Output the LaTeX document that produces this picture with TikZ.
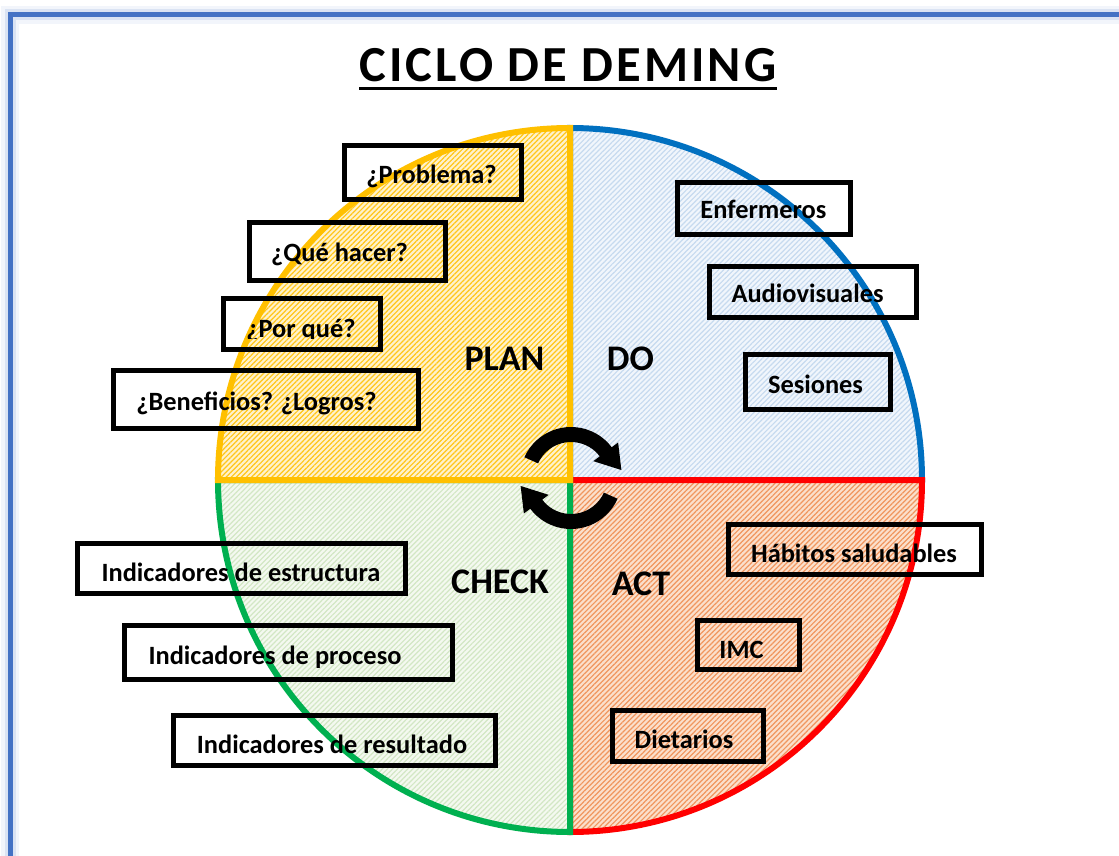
\documentclass[tikz,border=0pt]{standalone}
\usepackage{fontspec}
\setmainfont{Carlito}
\usetikzlibrary{patterns.meta,calc}
\definecolor{frameblue}{HTML}{4472C4}
\definecolor{planc}{HTML}{FFC000}
\definecolor{planbg}{HTML}{FFF2CC}
\definecolor{planln}{HTML}{FFC61A}
\definecolor{doc}{HTML}{0070C0}
\definecolor{dobg}{HTML}{F1F6FC}
\definecolor{doln}{HTML}{C6DAEF}
\definecolor{checkc}{HTML}{00B050}
\definecolor{checkbg}{HTML}{F4F9F0}
\definecolor{checkln}{HTML}{D2E7C4}
\definecolor{actc}{HTML}{FF0000}
\definecolor{actbg}{HTML}{FBE0CC}
\definecolor{actln}{HTML}{F0965E}
\begin{document}
\begin{tikzpicture}[x=1pt,y=-1pt,
  box/.style={draw=black,line width=5pt,inner sep=0pt},
  lbl/.style={font=\fontsize{26.4}{30}\selectfont\bfseries,inner sep=0pt,text height=16.6pt,text depth=0pt},
  quad/.style={font=\fontsize{36}{40}\selectfont\bfseries,inner sep=0pt,text height=22.7pt,text depth=0pt},
  rim/.style={line width=6pt,line join=miter},
  hatch/.style={pattern={Lines[angle=45,distance=3.6pt,line width=1.2pt]}}]
\useasboundingbox (0,0) rectangle (1119,856);
\clip (0,0) rectangle (1119,856);
\fill[white] (0,0) rectangle (1119,856);
% frame with glow
\draw[line width=18pt,frameblue!7] (10,900) -- (10,15) -- (1200,15);
\draw[line width=11pt,frameblue!20] (10,900) -- (10,15) -- (1200,15);
\draw[line width=5pt,frameblue] (10,900) -- (10,15) -- (1200,15);
% title
\node[inner sep=0pt,font=\fontsize{50.5}{55}\selectfont\bfseries\addfontfeature{LetterSpace=6},text height=32pt,text depth=0pt] (title) at (568,66) {CICLO DE DEMING};
\draw[line width=3pt] ([yshift=-6.5pt]title.base west) -- ([yshift=-6.5pt]title.base east);
% quadrants
\coordinate (c) at (570,480);
% DO (top right)
\fill[dobg] (c) -- ++(270:352) arc[start angle=270,end angle=360,radius=352] -- cycle;
\fill[hatch,pattern color=doln] (c) -- ++(270:352) arc[start angle=270,end angle=360,radius=352] -- cycle;
\draw[rim,doc] (c) -- ++(270:352) arc[start angle=270,end angle=360,radius=352] -- cycle;
% ACT (bottom right)
\fill[actbg] (c) -- ++(0:352) arc[start angle=0,end angle=90,radius=352] -- cycle;
\fill[hatch,pattern color=actln] (c) -- ++(0:352) arc[start angle=0,end angle=90,radius=352] -- cycle;
\draw[rim,actc] (c) -- ++(0:352) arc[start angle=0,end angle=90,radius=352] -- cycle;
% CHECK (bottom left)
\fill[checkbg] (c) -- ++(90:352) arc[start angle=90,end angle=180,radius=352] -- cycle;
\fill[hatch,pattern color=checkln] (c) -- ++(90:352) arc[start angle=90,end angle=180,radius=352] -- cycle;
\draw[rim,checkc] (c) -- ++(90:352) arc[start angle=90,end angle=180,radius=352] -- cycle;
% PLAN (top left)
\fill[planbg] (c) -- ++(180:352) arc[start angle=180,end angle=270,radius=352] -- cycle;
\fill[hatch,pattern color=planln] (c) -- ++(180:352) arc[start angle=180,end angle=270,radius=352] -- cycle;
\draw[rim,planc] (c) -- ++(180:352) arc[start angle=180,end angle=270,radius=352] -- cycle;
% quadrant titles
\node[quad] (plan) at (504.5,359.5) {PLAN};
\node[quad] (do) at (630.5,359.5) {DO};
\node[quad] (check) at (500,582) {CHECK};
\node[quad] (act) at (641,584) {ACT};
% cycle arrows
\coordinate (a) at (571,478);
\fill[black] ($(a)+(-156:51)$) arc[start angle=-156,end angle=-37,radius=51]
  -- ($(a)+(-37:59)$) -- ($(a)+(-9:51)$) -- ($(a)+(-37:28)$) -- ($(a)+(-37:36)$)
  arc[start angle=-37,end angle=-156,radius=36] -- cycle;
\fill[black] ($(a)+(24:51)$) arc[start angle=24,end angle=143,radius=51]
  -- ($(a)+(143:59)$) -- ($(a)+(171:51)$) -- ($(a)+(143:28)$) -- ($(a)+(143:36)$)
  arc[start angle=143,end angle=24,radius=36] -- cycle;
% PLAN boxes
\node[box,minimum width=177pt,minimum height=54pt] (bprob) at (433,172.5) {};
\node[lbl] (tprob) at (431.5,175) {¿Problema?};
\node[box,minimum width=196pt,minimum height=58pt] (bque) at (347.5,251.5) {};
\node[lbl] (tque) at (339.5,253) {¿Qué hacer?};
\node[box,minimum width=157pt,minimum height=51pt] (bpor) at (302,324) {};
\begin{scope}
\clip (200,300) rectangle (400,338.5);
\node[lbl] (tpor) at (301,329.5) {¿Por qué?};
\end{scope}
\node[box,minimum width=305pt,minimum height=58pt] (bben) at (266,399.5) {};
\node[lbl] (tben) at (256.5,402) {¿Beneficios? ¿Logros?};
% DO boxes
\node[box,minimum width=173pt,minimum height=52pt] (benf) at (764,208.5) {};
\node[lbl] (tenf) at (763.5,210) {Enfermeros};
\node[box,minimum width=207pt,minimum height=51pt] (baud) at (813,292) {};
\node[lbl] (taud) at (807.5,294) {Audiovisuales};
\node[box,minimum width=145pt,minimum height=55pt] (bses) at (818,382) {};
\node[lbl] (tses) at (815.5,385) {Sesiones};
% ACT boxes
\node[box,minimum width=253pt,minimum height=50pt] (bhab) at (855,549.5) {};
\node[lbl] (thab) at (854,554) {Hábitos saludables};
\node[box,minimum width=102pt,minimum height=49pt] (bimc) at (748.5,645) {};
\node[lbl] (timc) at (741.5,650) {IMC};
\node[box,minimum width=151pt,minimum height=51pt] (bdie) at (688,736) {};
\node[lbl] (tdie) at (684,740) {Dietarios};
% CHECK boxes
\node[box,minimum width=328pt,minimum height=50pt] (best) at (241.5,568.5) {};
\node[lbl] (test) at (241,573) {Indicadores de estructura};
\node[box,minimum width=328pt,minimum height=54pt] (bpro) at (288.5,652.5) {};
\begin{scope}
\clip (100,620) rectangle (470,667.5);
\node[lbl] (tpro) at (275,656) {Indicadores de proceso};
\end{scope}
\node[box,minimum width=322pt,minimum height=50pt] (bres) at (334.5,740.5) {};
\node[lbl] (tres) at (332,745) {Indicadores de resultado};
\end{tikzpicture}
\end{document}
